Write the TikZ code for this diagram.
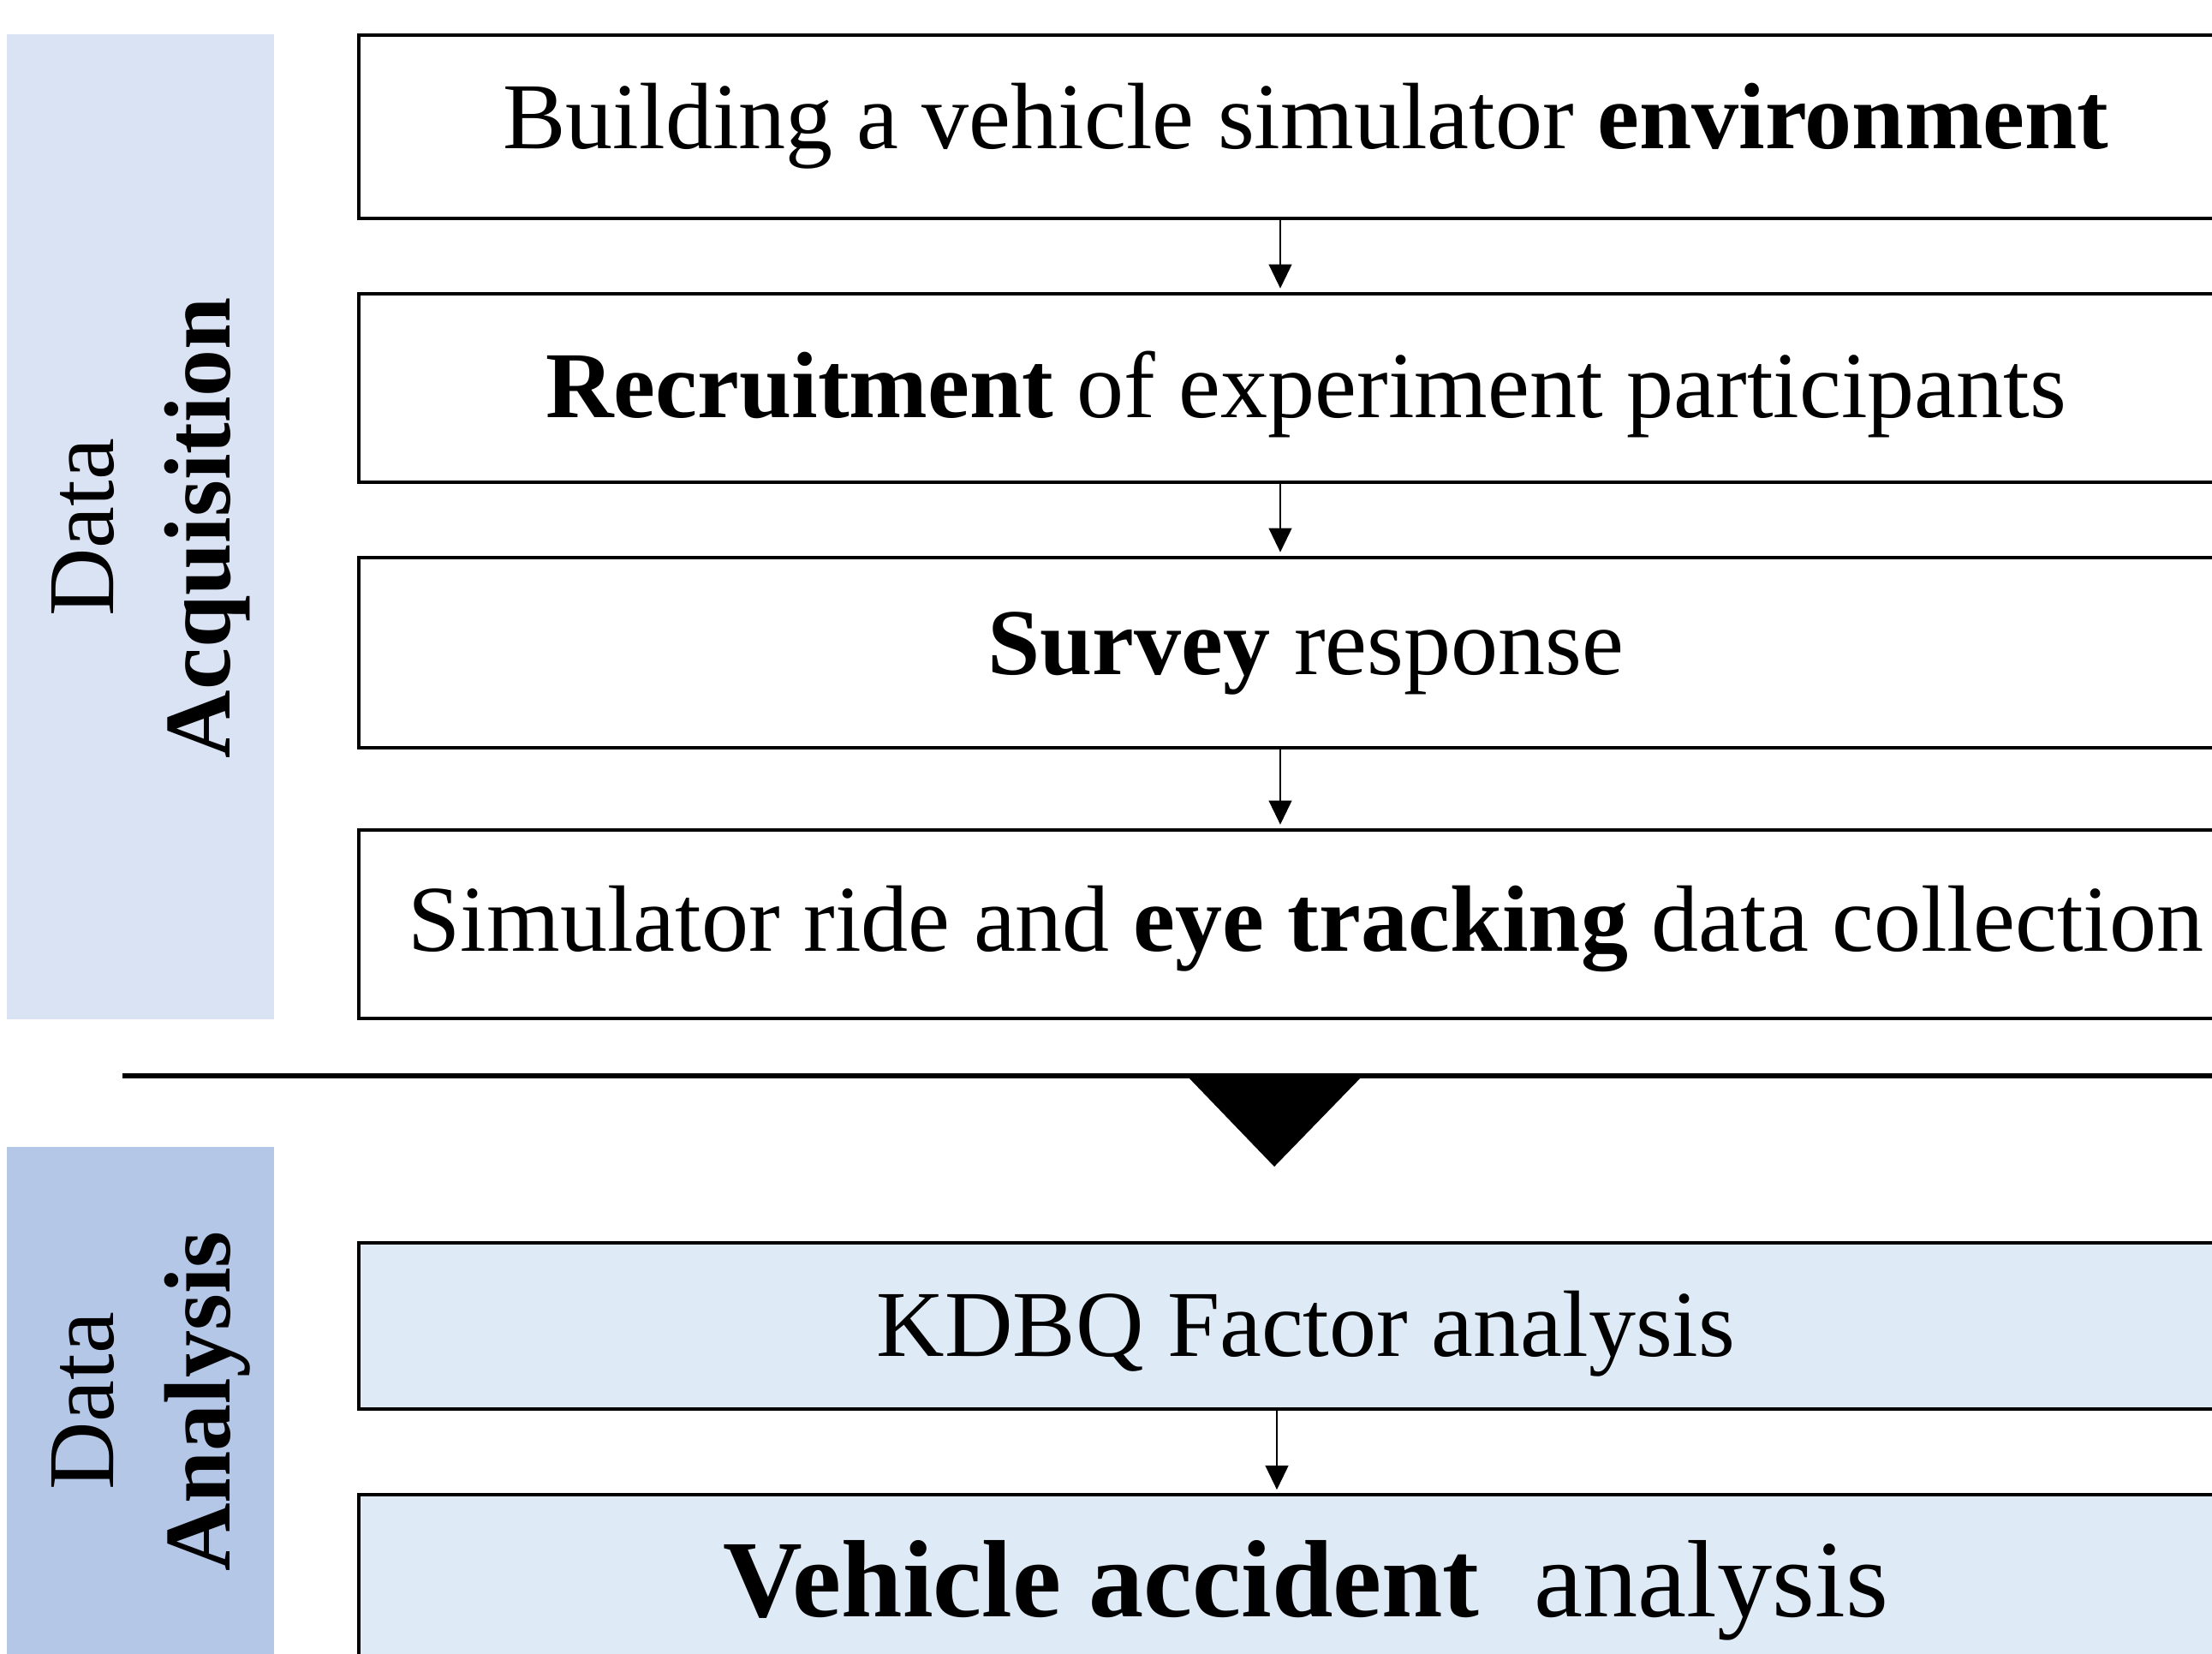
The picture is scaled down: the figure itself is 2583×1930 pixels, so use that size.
\documentclass[tikz,border=0pt]{standalone}
\usepackage{fontspec}
\setmainfont{Liberation Serif}
\usetikzlibrary{arrows.meta,calc}
\definecolor{panelA}{HTML}{DAE3F3}
\definecolor{panelB}{HTML}{B4C7E7}
\definecolor{boxfill}{HTML}{DEEAF6}
\tikzset{
  stepbox/.style={draw=black, line width=1.15pt, rectangle, minimum width=22.1cm, inner sep=0pt,
    text depth=0.24cm, font=\fontsize{31.3}{37.6}\selectfont},
  ana/.style={stepbox, fill=boxfill},
  sidelabel/.style={rotate=90, align=center, inner sep=0pt,
    font=\fontsize{31.3}{38.7}\selectfont},
  arr/.style={line width=0.57pt, -{Triangle[length=8pt,width=7.6pt]}, shorten >=1.2pt},
}
\begin{document}
\begin{tikzpicture}[x=0.01cm,y=-0.01cm]
\useasboundingbox (0,0) rectangle (2583,1930);
\clip (0,0) rectangle (2583,1930);
% side panels
\fill[panelA] (8,40) rectangle (320,1190);
\fill[panelB] (8,1339) rectangle (320,1950);
\node[sidelabel] (lab1) at (176,616) {Data\\\textbf{Acquisition}};
\node[sidelabel] (lab2) at (176,1636) {Data\\\textbf{Analysis}};
% boxes
\node[stepbox, minimum height=2.14cm, text height=0.74cm] (b1) at (1525,148) {Building a vehicle simulator \textbf{environment}};
\node[stepbox, minimum height=2.20cm, text height=0.92cm] (b2) at (1525,453) {\textbf{Recruitment} of experiment participants};
\node[stepbox, minimum height=2.22cm, text height=0.74cm] (b3) at (1525,762) {\textbf{Survey} response};
\node[stepbox, minimum height=2.20cm, text height=0.86cm] (b4) at (1525,1079) {Simulator ride and \textbf{eye tracking} data collection};
\node[ana, minimum height=1.94cm, text height=0.94cm] (b5) at (1525,1548) {KDBQ Factor analysis};
\node[ana, minimum height=1.99cm, text height=1.08cm, font=\fontsize{36.5}{44}\selectfont] (b6) at (1525,1845) {\textbf{Vehicle accident}\ \ analysis};
% arrows
\coordinate (ax) at (1495,0);
\coordinate (bx) at (1491,0);
\draw[arr] (ax |- b1.south) -- (ax |- b2.north);
\draw[arr] (ax |- b2.south) -- (ax |- b3.north);
\draw[arr] (ax |- b3.south) -- (ax |- b4.north);
\draw[arr] (bx |- b5.south) -- (bx |- b6.north);
% separator and big arrow
\coordinate (sepL) at (143,1256);
\coordinate (sepR) at (2600,1256);
\draw[line width=1.7pt] (sepL) -- (sepR);
\coordinate (triL) at (1386,1256);
\coordinate (triR) at (1591,1256);
\coordinate (triT) at (1488,1362);
\fill[black] (triL) -- (triR) -- (triT) -- cycle;
\end{tikzpicture}
\end{document}
